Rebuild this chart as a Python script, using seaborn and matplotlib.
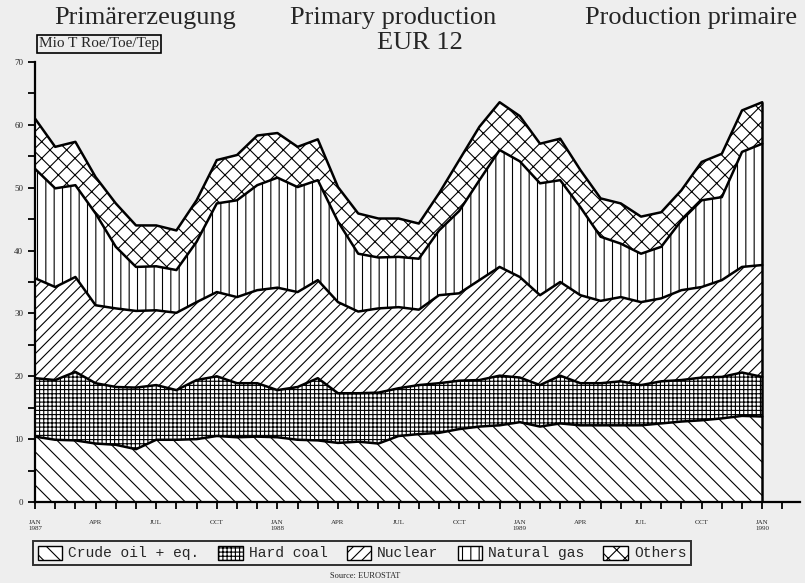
import numpy as np
import pandas as pd
import seaborn as sns
import matplotlib.pyplot as plt
from matplotlib.patches import Patch

# monthly primary production, EUR 12, Mio t oil equivalent
months = np.arange(37)
crude = [10.4, 9.9, 9.8, 9.3, 9.1, 8.4, 9.9, 9.9, 10.0, 10.5, 10.3, 10.4,
         10.3, 9.9, 9.8, 9.4, 9.6, 9.3, 10.5, 10.8, 11.0, 11.6, 12.0, 12.2,
         12.7, 12.0, 12.5, 12.2, 12.2, 12.2, 12.2, 12.5, 12.8, 13.0, 13.3, 13.7, 13.6]
hard_coal = [9.3, 9.5, 10.9, 9.6, 9.2, 9.8, 8.7, 7.9, 9.4, 9.5, 8.6, 8.5,
             7.5, 8.4, 9.9, 7.9, 7.7, 8.1, 7.6, 7.8, 7.9, 7.7, 7.4, 7.9,
             7.1, 6.6, 7.6, 6.7, 6.7, 7.0, 6.4, 6.7, 6.6, 6.8, 6.6, 6.9, 6.3]
nuclear = [15.9, 14.8, 15.1, 12.4, 12.5, 12.2, 11.9, 12.3, 12.4, 13.4, 13.7, 14.8,
           16.3, 15.1, 15.6, 14.5, 13.0, 13.4, 12.9, 12.0, 14.0, 13.9, 15.9, 17.3,
           16.0, 14.3, 14.9, 14.0, 13.1, 13.4, 13.2, 13.2, 14.3, 14.4, 15.4, 16.8, 17.8]
natural_gas = [17.4, 15.7, 14.6, 14.6, 9.8, 7.0, 7.0, 6.8, 9.6, 14.1, 15.4, 16.7,
               17.5, 16.7, 15.9, 12.8, 9.2, 8.1, 8.0, 8.1, 10.3, 13.1, 15.9, 18.6,
               18.4, 17.8, 16.2, 14.0, 10.2, 8.5, 7.7, 8.2, 11.1, 13.8, 13.2, 18.3, 19.3]
others = [8.0, 6.6, 6.9, 5.8, 6.9, 6.6, 6.5, 6.3, 6.6, 6.9, 7.2, 7.9,
          7.1, 6.4, 6.5, 5.5, 6.4, 6.2, 6.1, 5.6, 5.9, 8.1, 8.5, 7.6,
          7.2, 6.3, 6.6, 5.9, 6.1, 6.4, 5.9, 5.5, 4.8, 6.1, 6.9, 6.6, 6.6]

series_names = ["Crude oil + eq.", "Hard coal", "Nuclear", "Natural gas", "Others"]
hatches = ["\\\\", "++++", "///", "||", "xx"]
tick_labels = ["JAN\n1987", "APR", "JUL", "OCT", "JAN\n1988", "APR", "JUL", "OCT",
               "JAN\n1989", "APR", "JUL", "OCT", "JAN\n1990"]

bg = "#eeeeee"
sns.set_theme(style="ticks")
plt.rcParams['font.family'] = ['DejaVu Sans']
plt.rcParams['hatch.linewidth'] = 0.8
plt.rcParams['hatch.color'] = 'black'

fig = plt.figure(figsize=(8.05, 5.83), dpi=100, facecolor=bg)
ax = fig.add_axes([35/805, 1-502/583, 765/805, 440/583])
ax.set_facecolor(bg)

stack = np.vstack([crude, hard_coal, nuclear, natural_gas, others])
polys = ax.stackplot(months, stack, colors=["white"]*5, edgecolor="black", linewidth=0)
for p, h in zip(polys, hatches):
    p.set_hatch(h)

# boundary lines between the layers
cum = np.cumsum(stack, axis=0)
lines = pd.DataFrame({
    "month": np.tile(months, len(series_names)),
    "value": cum.ravel(),
    "layer": np.repeat(series_names, len(months)),
})
sns.lineplot(data=lines, x="month", y="value", units="layer", estimator=None,
             color="black", linewidth=1.8, legend=False, ax=ax)
ax.vlines(months[-1], 0, cum[-1, -1], color="black", linewidth=1.8)

ax.set_xlim(0, 37.87)
ax.set_ylim(0, 70)
ax.set_xticks(np.arange(38), minor=True)
ax.set_xticks(months[::3])
ax.set_xticklabels(tick_labels, fontsize=5, family="Liberation Serif")
ax.set_yticks(np.arange(0, 71, 10))
ax.set_yticks(np.arange(0, 71, 5), minor=True)
ax.set_yticklabels([str(v) for v in range(0, 71, 10)], fontsize=6.5, family="Liberation Serif")
ax.tick_params(axis="both", which="both", direction="out", length=5, width=1.3, color="black")
ax.tick_params(axis="x", pad=8)
ax.set_xlabel("")
ax.set_ylabel("")
sns.despine(ax=ax)
for s in ["left", "bottom"]:
    ax.spines[s].set_linewidth(1.6)
    ax.spines[s].set_color("black")

title_kw = dict(fontsize=19, family="Liberation Serif", va="center")
fig.text(145/805, 1-18/583, "Primärerzeugung", ha="center", **title_kw)
fig.text(393/805, 1-18/583, "Primary production", ha="center", **title_kw)
fig.text(420/805, 1-43/583, "EUR 12", ha="center", **title_kw)
fig.text(797/805, 1-18/583, "Production primaire", ha="right", **title_kw)
fig.text(39/805, 1-44/583, "Mio T Roe/Toe/Tep", ha="left", va="center", fontsize=11,
         family="Liberation Serif",
         bbox=dict(boxstyle="square,pad=0.15", facecolor="none", edgecolor="black", linewidth=1.2))

handles = [Patch(facecolor="white", edgecolor="black", hatch=h, label=n)
           for h, n in zip(hatches, series_names)]
leg = fig.legend(handles=handles, ncol=5, loc="center", bbox_to_anchor=(362/805, 1-553/583),
                 frameon=True, fancybox=False, prop={"family": "Liberation Mono", "size": 10.5},
                 handlelength=1.7, handleheight=1.1, handletextpad=0.4, columnspacing=1.3,
                 borderpad=0.3)
leg.get_frame().set_edgecolor("black")
leg.get_frame().set_linewidth(1.4)
leg.get_frame().set_facecolor(bg)

fig.text(365/805, 1-576/583, "Source: EUROSTAT", ha="center", va="center", fontsize=6,
         family="Liberation Serif")

fig.savefig("out.png", dpi=100, facecolor=bg)
